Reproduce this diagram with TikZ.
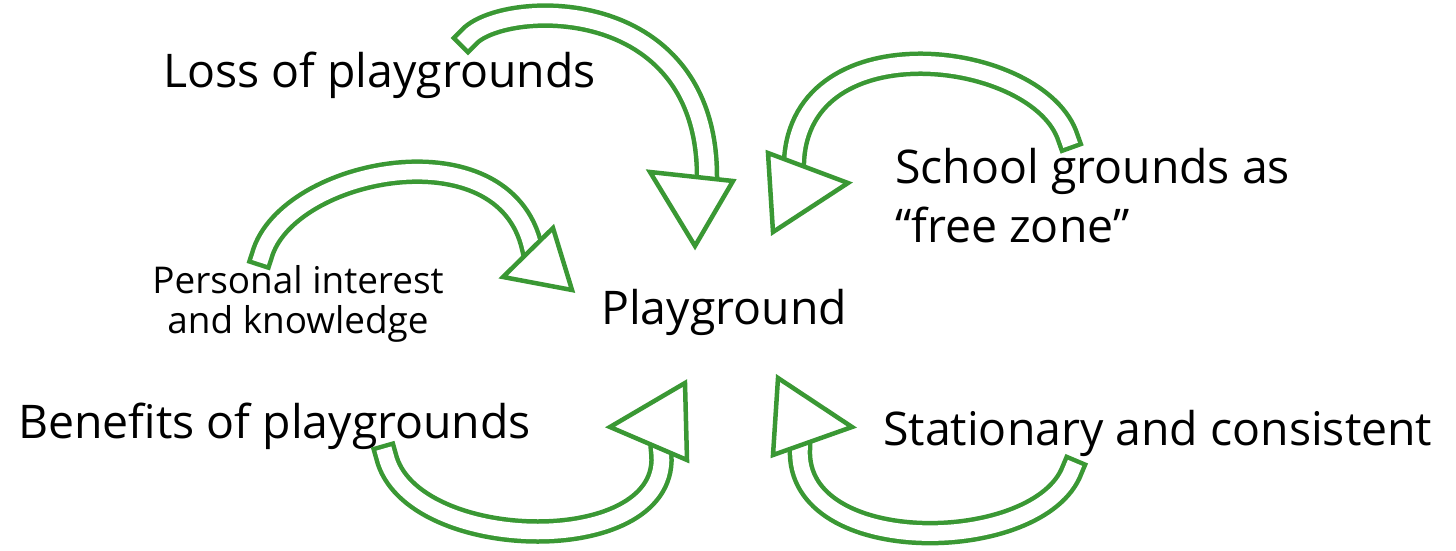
\documentclass[tikz,border=0pt]{standalone}
\usepackage{fontspec}
\setmainfont{Open Sans}
\definecolor{grn}{RGB}{58,152,52}
\tikzset{
  shaft/.style={draw=grn, line width=4.5pt, double=white, double distance=15.5pt, line cap=rect},
  head/.style={draw=grn, fill=white, line width=4.5pt, line join=miter},
  lbl/.style={inner sep=0pt, anchor=base west},
  big/.style={font=\fontsize{46.4}{59}\selectfont},
}
\begin{document}
\begin{tikzpicture}[x=1pt,y=-1pt]
\useasboundingbox (0,0) rectangle (1456,551);
% labels
\node[lbl,big] (loss) at (163,88) {Loss of playgrounds};
\node[lbl,big,align=left] (school) at (895,242) {School grounds as\\“free zone”};
\node[inner sep=0pt,anchor=base,align=center,font=\fontsize{36.9}{40}\selectfont] (pers) at (298,333) {Personal interest\\and knowledge};
\node[lbl,big] (play) at (601,324) {Playground};
\node[lbl,big] (ben) at (18,438) {Benefits of playgrounds};
\node[lbl,big] (stat) at (883,445) {Stationary and consistent};
% arrow 1
\coordinate (s1) at (468,38);
\coordinate (e1) at (707,177);
\draw[shaft] (s1) .. controls (500,0) and (707,-10) .. (e1);
\coordinate (h1a) at (650,172); \coordinate (h1b) at (733,181); \coordinate (h1c) at (695,246);
\draw[head] (h1a) -- (h1b) -- (h1c) -- cycle;
% arrow 2
\coordinate (s2) at (1068,138);
\coordinate (e2) at (794,162);
\draw[shaft] (s2) .. controls (1040,50) and (800,20) .. (e2);
\coordinate (h2a) at (768,153); \coordinate (h2b) at (848,183); \coordinate (h2c) at (773,232);
\draw[head] (h2a) -- (h2b) -- (h2c) -- cycle;
% arrow 3
\coordinate (s3) at (262,255);
\coordinate (e3) at (532,248);
\draw[shaft] (s3) .. controls (287,168) and (505,125) .. (e3);
\coordinate (h3a) at (503,277); \coordinate (h3b) at (553,228); \coordinate (h3c) at (572,290);
\draw[head] (h3a) -- (h3b) -- (h3c) -- cycle;
% arrow 4
\coordinate (s4) at (386,456);
\coordinate (e4) at (661,451);
\draw[shaft] (s4) .. controls (410,555) and (675,560) .. (e4);
\coordinate (h4a) at (610,427); \coordinate (h4b) at (685,383); \coordinate (h4c) at (687,460);
\draw[head] (h4a) -- (h4b) -- (h4c) -- cycle;
% arrow 5
\coordinate (s5) at (1072,470);
\coordinate (e5) at (800,449);
\draw[shaft] (s5) .. controls (1040,555) and (795,560) .. (e5);
\coordinate (h5a) at (778,378); \coordinate (h5b) at (852,427); \coordinate (h5c) at (773,455);
\draw[head] (h5a) -- (h5b) -- (h5c) -- cycle;
\end{tikzpicture}
\end{document}
